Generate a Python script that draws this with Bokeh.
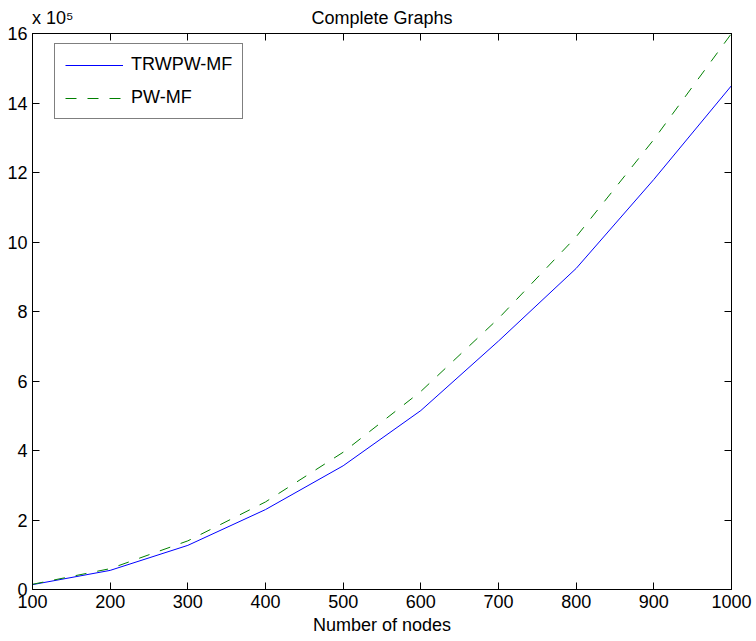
from bokeh.plotting import figure
from bokeh.models import (LinearAxis, FixedTicker, CustomJSTickFormatter,
                          Legend, LegendItem, Range1d)
from bokeh.embed import file_html
from bokeh.resources import INLINE

# ---- data ----
nodes = [100, 200, 300, 400, 500, 600, 700, 800, 900, 1000]
trwpw_mf = [0.14e5, 0.55e5, 1.27e5, 2.30e5, 3.56e5, 5.15e5, 7.15e5, 9.24e5, 11.8e5, 14.5e5]
pw_mf = [0.15e5, 0.60e5, 1.40e5, 2.52e5, 3.95e5, 5.70e5, 7.80e5, 10.15e5, 12.95e5, 16.0e5]
x_ticks = [100, 200, 300, 400, 500, 600, 700, 800, 900, 1000]
y_ticks = [0, 2e5, 4e5, 6e5, 8e5, 10e5, 12e5, 14e5, 16e5]
y_exponent = 5
title_text = "Complete Graphs"
multiplier_text = "x 10\u2075"
x_label = "Number of nodes"
series_names = ["TRWPW-MF", "PW-MF"]

FONT = "Liberation Sans"
FS = "18px"

x_min, x_max = nodes[0], nodes[-1]
y_min, y_max = y_ticks[0], y_ticks[-1]

p = figure(width=756, height=641, output_backend="svg", toolbar_location=None,
           x_range=Range1d(x_min, x_max), y_range=Range1d(y_min, y_max),
           min_border_left=32, min_border_right=25, min_border_top=33,
           min_border_bottom=52,
           background_fill_color="white", border_fill_color="white")

p.grid.visible = False
p.outline_line_color = "black"

fmt = CustomJSTickFormatter(code="return String(Math.round(tick / %g));" % (10 ** y_exponent))
blank_fmt = CustomJSTickFormatter(code="return '';")

def style_axis(ax, show_labels):
    ax.axis_line_color = "black"
    ax.axis_line_width = 1
    ax.major_tick_in = 7
    ax.major_tick_out = 0
    ax.minor_tick_line_color = None
    ax.major_tick_line_color = "black"
    ax.major_label_text_font = FONT
    ax.major_label_text_color = "black"
    if show_labels:
        ax.major_label_text_font_size = FS
        ax.major_label_standoff = 5
    else:
        ax.formatter = blank_fmt
        ax.major_label_text_font_size = "0px"
        ax.major_label_standoff = 0

xa = p.xaxis[0]
xa.ticker = FixedTicker(ticks=x_ticks)
style_axis(xa, True)
xa.axis_label = x_label
xa.axis_label_text_font = FONT
xa.axis_label_text_font_size = FS
xa.axis_label_text_font_style = "normal"
xa.axis_label_text_color = "black"
xa.axis_label_standoff = 4

ya = p.yaxis[0]
ya.ticker = FixedTicker(ticks=y_ticks)
ya.formatter = fmt
style_axis(ya, True)

top_ax = LinearAxis(ticker=FixedTicker(ticks=x_ticks))
style_axis(top_ax, False)
p.add_layout(top_ax, "above")

right_ax = LinearAxis(ticker=FixedTicker(ticks=y_ticks))
style_axis(right_ax, False)
p.add_layout(right_ax, "right")

# Title row: the chart title (centred over the plot) and the "x 10^5"
# multiplier (flush with the y axis) share one text row above the frame.
title_pos = (x_min + x_max) / 2
mult_pos = x_min + 0.029 * (x_max - x_min)
title_ax = LinearAxis(ticker=FixedTicker(ticks=[mult_pos, title_pos]),
                      major_label_overrides={mult_pos: multiplier_text,
                                             title_pos: title_text})
title_ax.axis_line_color = None
title_ax.major_tick_line_color = None
title_ax.minor_tick_line_color = None
title_ax.major_tick_in = 0
title_ax.major_tick_out = 0
title_ax.major_label_standoff = 6
title_ax.major_label_text_font = FONT
title_ax.major_label_text_font_size = FS
title_ax.major_label_text_color = "black"
p.add_layout(title_ax, "above")

r1 = p.line(nodes, trwpw_mf, line_color="#0000ff", line_width=1)
r2 = p.line(nodes, pw_mf, line_color="#008000", line_width=1, line_dash="11 11")

legend = Legend(items=[LegendItem(label=series_names[0], renderers=[r1]),
                       LegendItem(label=series_names[1], renderers=[r2])],
                location=(22, 470), margin=0, padding=10, spacing=12,
                glyph_width=58, glyph_height=20, label_height=20,
                label_standoff=8, label_text_font=FONT, label_text_font_size=FS,
                label_text_color="black",
                border_line_color="black", border_line_width=1,
                background_fill_color="white", background_fill_alpha=1)
p.add_layout(legend, "center")

open("out.html", "w").write(file_html(p, INLINE))
